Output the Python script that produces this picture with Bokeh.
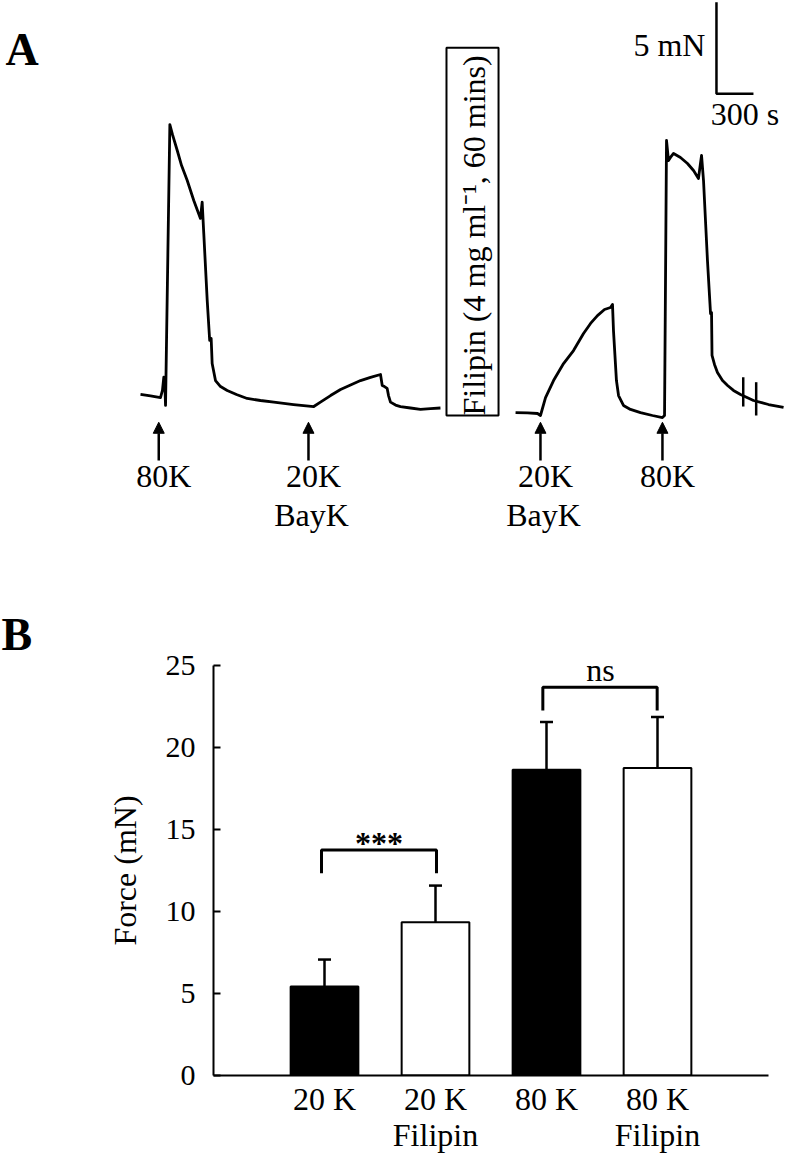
import numpy as np
from bokeh.plotting import figure
from bokeh.models import (Range1d, ColumnDataSource, Arrow,
                          NormalHead, FixedTicker, Whisker, TeeHead)
from bokeh.core.properties import value
from bokeh.embed import file_html
from bokeh.resources import INLINE

FONT = "Liberation Serif"

# ---------------- Panel A: force trace (time in s, force in mN) ----------------
trace1_t = [0, 81, 162, 178, 189, 199, 203, 238, 259, 298, 333, 379, 432, 462, 486,
            500, 513, 541, 561, 573, 581, 608, 649, 703, 778, 865, 973, 1081, 1241,
            1405, 1459, 1541, 1622, 1703, 1784, 1865, 1946, 1960, 1978, 2000, 2011,
            2027, 2068, 2108, 2189, 2270, 2351, 2432]
trace1_f = [1.15, 1.07, 0.98, 1.37, 2.09, 1.37, 0.55, 15.90, 15.36, 14.48, 13.66, 12.84,
            11.75, 11.20, 10.77, 11.66, 9.95, 6.28, 4.10, 4.21, 2.84, 1.91, 1.58, 1.37,
            1.15, 0.93, 0.82, 0.73, 0.60, 0.49, 0.73, 1.09, 1.42, 1.67, 1.91, 2.08, 2.24,
            1.64, 1.58, 1.48, 1.09, 0.73, 0.57, 0.49, 0.41, 0.33, 0.38, 0.41]

trace2_t = [3041, 3138, 3219, 3243, 3284, 3349, 3430, 3511, 3592, 3649, 3705, 3762,
            3811, 3827, 3835, 3859, 3876, 3916, 3973, 4054, 4151, 4232, 4249, 4265,
            4281, 4297, 4322, 4378, 4435, 4484, 4524, 4549, 4565, 4597, 4622, 4630,
            4634, 4654, 4678, 4719, 4760, 4808, 4865, 4970, 5092, 5214]
trace2_f = [0.16, 0.14, 0.11, -0.00, 0.98, 1.91, 2.84, 3.55, 4.48, 5.03, 5.46, 5.79,
            5.90, 6.07, 4.64, 1.91, 1.09, 0.55, 0.33, 0.16, 0.00, -0.11, 0.00, 15.03,
            13.93, 14.10, 14.32, 14.10, 13.77, 13.39, 12.95, 14.21, 12.84, 8.47, 5.57,
            5.63, 3.28, 2.79, 2.35, 1.91, 1.64, 1.37, 1.15, 0.82, 0.60, 0.44]

# small marks on the second trace
mark_t = [4887, 4992]
mark_f0 = [0.49, 0.00]
mark_f1 = [2.09, 1.82]

# stimuli
stim_t = [148, 1362, 3243, 4232]
stim_line1 = ["80K", "20K", "20K", "80K"]
bayk_t = [1362, 3243]
bayk_text = ["BayK", "BayK"]

# treatment box (filipin incubation)
box_t = [2481, 2903]
box_f = [0.0, 20.1]
box_text = "Filipin (4 mg ml\u207b\u00b9, 60 mins)"

# scale bar
scale_t0, scale_f0 = 4670, 17.58
scale_dt, scale_df = 300, 5

# ---------------- Panel B: bar chart ----------------
cat_labels = ["20 K", "20 K\nFilipin", "80 K", "80 K\nFilipin"]
force_mean = [5.42, 9.35, 18.64, 18.75]
force_sem = [1.65, 2.23, 2.91, 3.11]
bar_colors = ["black", "white", "black", "white"]
y_ticks = [0, 5, 10, 15, 20, 25]

# ======================= Figure A =======================
k = 300 / 37.0      # s per px
fpx = 18.3          # px per mN
HA = 568
pA = figure(width=786, height=HA, output_backend="svg", toolbar_location=None,
            x_axis_location=None, y_axis_location=None,
            x_range=Range1d((0 - 140) * k, (786 - 140) * k),
            y_range=Range1d((415 - HA) / fpx, (415 - 0) / fpx),
            min_border=0, min_border_left=0, min_border_right=0,
            min_border_top=0, min_border_bottom=0)
pA.outline_line_color = None
pA.grid.visible = False

pA.line(trace1_t, trace1_f, line_color="black", line_width=2.8, line_join="round")
pA.line(trace2_t, trace2_f, line_color="black", line_width=2.8, line_join="round")
pA.segment(x0=mark_t, y0=mark_f0, x1=mark_t, y1=mark_f1, line_color="black", line_width=2.5)

TXT = dict(text_font=value(FONT), text_font_size=value("32px"), text_color="black",
           text_baseline="middle")

# scale bar
pA.line([scale_t0, scale_t0, scale_t0 + scale_dt],
        [scale_f0 + scale_df, scale_f0, scale_f0], line_color="black", line_width=2.5)
pA.text(x=[scale_t0 - 11 * k], y=[20.27], text=["%d mN" % scale_df], text_align="right", **TXT)
pA.text(x=[scale_t0 + scale_dt / 2 + 10 * k], y=[16.45], text=["%d s" % scale_dt],
        text_align="center", **TXT)

# box
pA.quad(left=[box_t[0]], right=[box_t[1]], bottom=[box_f[0]], top=[box_f[1]],
        fill_color="white", line_color="black", line_width=2)
pA.text(x=[2700], y=[9.84], text=[box_text], angle=np.pi / 2, text_align="center", **TXT)

# stimulus arrows
arr_src = ColumnDataSource(dict(x=stim_t, y0=[-2.46] * 4, y1=[-0.37] * 4))
pA.add_layout(Arrow(source=arr_src, x_start="x", y_start="y0", x_end="x", y_end="y1",
                    line_width=2.5, line_color="black",
                    end=NormalHead(size=11, fill_color="black", line_color="black")))
pA.text(x=stim_t, y=[-3.33] * 4, text=stim_line1, x_offset=5, text_align="center", **TXT)
pA.text(x=bayk_t, y=[-5.41] * 2, text=bayk_text, x_offset=3, text_align="center", **TXT)

pA.text(x=[-1095], y=[20.0], text=["A"], text_font=value(FONT), text_font_size=value("46px"),
        text_font_style="bold", text_color="black", text_baseline="middle")

# ======================= Figure B =======================
xs = [1, 2, 3, 4]
pB = figure(width=786, height=1155 - HA, output_backend="svg", toolbar_location=None,
            x_range=Range1d(0, 5), y_range=Range1d(0, 25),
            min_border_left=213, min_border_right=18, min_border_top=665 - HA,
            min_border_bottom=79, title="B")
pB.outline_line_color = None
pB.grid.visible = False
pB.title.align = "left"
pB.title.offset = -212
pB.title.standoff = 12
pB.title.text_font = FONT
pB.title.text_font_size = "46px"
pB.title.text_font_style = "bold"
pB.title.text_color = "black"

src = ColumnDataSource(dict(x=xs, top=force_mean,
                            up=[m + s for m, s in zip(force_mean, force_sem)],
                            color=bar_colors))
pB.vbar(x="x", top="top", width=0.61, source=src, fill_color="color",
        line_color="black", line_width=2)
pB.add_layout(Whisker(source=src, base="x", upper="up", lower="top", line_width=2.5,
                      line_color="black", lower_head=None,
                      upper_head=TeeHead(size=13, line_width=2.5, line_color="black")))

# significance brackets
pB.line([0.973, 0.973, 2.009, 2.009], [12.33, 13.75, 13.75, 12.33], line_color="black", line_width=3)
pB.line([2.967, 2.967, 3.997, 3.997], [22.26, 23.68, 23.68, 22.26], line_color="black", line_width=3)
pB.text(x=[1.49], y=[14.2], text=["***"], text_font=value(FONT), text_font_size=value("32px"),
        text_font_style="bold", text_color="black", text_align="center", text_baseline="middle")
pB.text(x=[3.486], y=[24.74], text=["ns"], text_align="center", **TXT)

# axes
yax = pB.yaxis[0]
yax.ticker = FixedTicker(ticks=y_ticks)
yax.minor_tick_line_color = None
yax.major_tick_in = 7
yax.major_tick_out = 0
yax.major_tick_line_width = 2
yax.axis_line_width = 2
yax.major_label_text_font = FONT
yax.major_label_text_font_size = "30px"
yax.major_label_text_color = "black"
yax.major_label_standoff = 18
yax.axis_label = "Force (mN)"
yax.axis_label_text_font = FONT
yax.axis_label_text_font_size = "32px"
yax.axis_label_text_font_style = "normal"
yax.axis_label_text_color = "black"
yax.axis_label_standoff = 20

xax = pB.xaxis[0]
xax.ticker = FixedTicker(ticks=xs)
xax.major_label_overrides = {x: lab for x, lab in zip(xs, cat_labels)}
xax.minor_tick_line_color = None
xax.major_tick_line_color = None
xax.major_tick_in = 0
xax.major_tick_out = 0
xax.axis_line_width = 2
xax.major_label_text_font = FONT
xax.major_label_text_font_size = "32px"
xax.major_label_text_color = "black"
xax.major_label_text_line_height = 1.0
xax.major_label_standoff = 5

open("out.html", "w").write(file_html([pA, pB], INLINE))
